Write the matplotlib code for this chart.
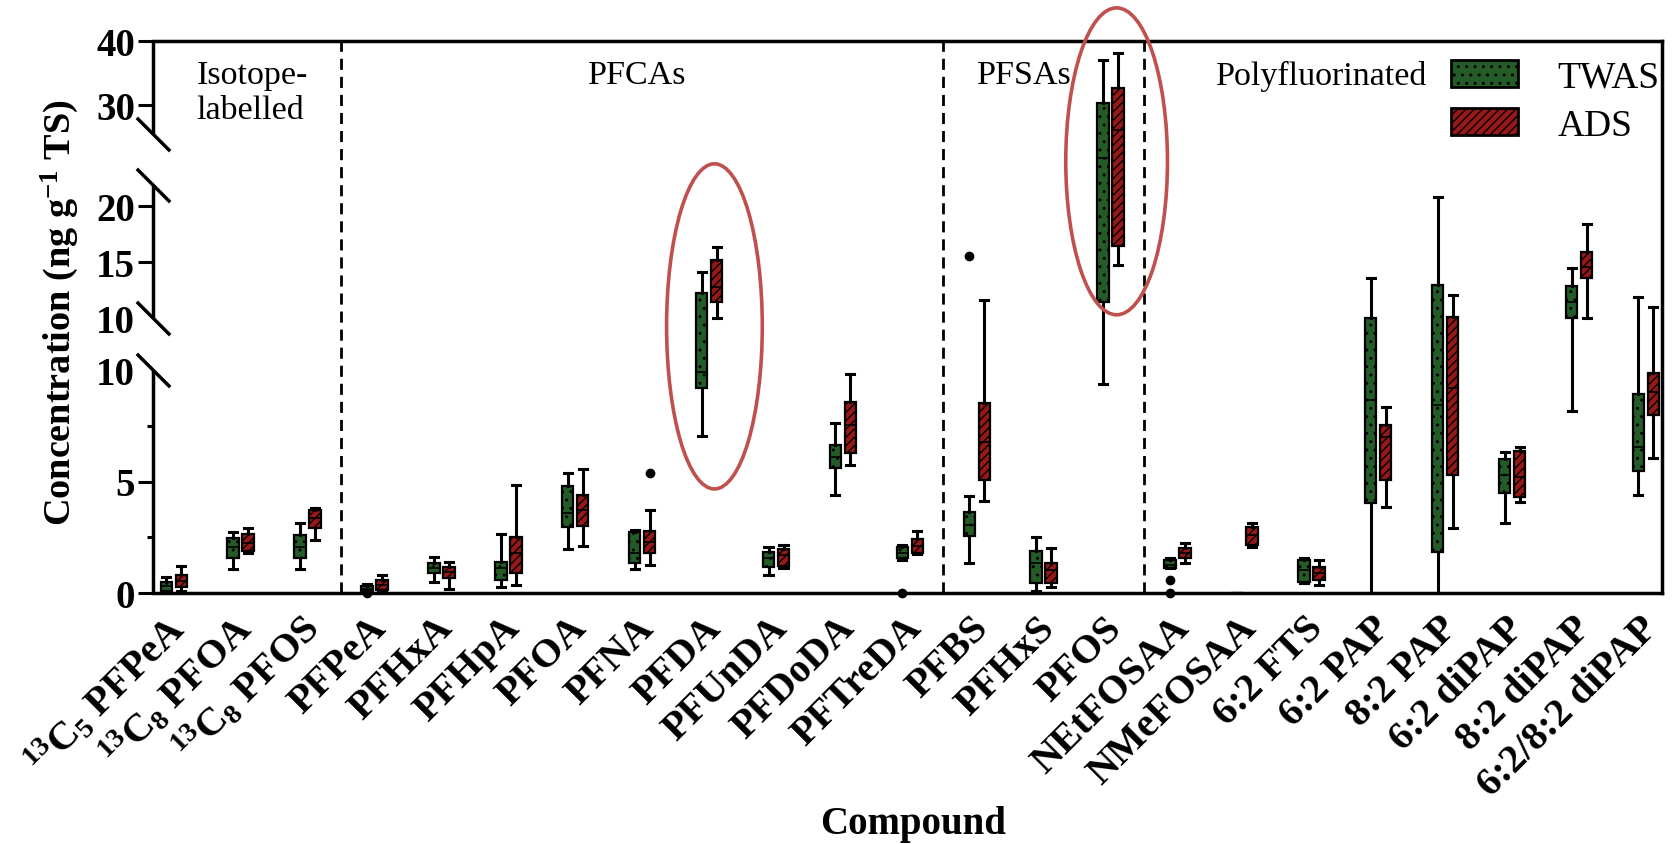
import numpy as np
import matplotlib
matplotlib.use('Agg')
import matplotlib.pyplot as plt
from matplotlib.patches import Patch, Ellipse
from matplotlib import transforms

plt.rcParams['font.family'] = ['Liberation Serif', 'DejaVu Serif']
plt.rcParams['mathtext.default'] = 'regular'
plt.rcParams['hatch.linewidth'] = 1.0

# categories
compounds = [r'$^{13}$C$_5$ PFPeA', r'$^{13}$C$_8$ PFOA', r'$^{13}$C$_8$ PFOS',
             'PFPeA', 'PFHxA', 'PFHpA', 'PFOA', 'PFNA', 'PFDA', 'PFUnDA', 'PFDoDA', 'PFTreDA',
             'PFBS', 'PFHxS', 'PFOS',
             'NEtFOSAA', 'NMeFOSAA', '6:2 FTS', '6:2 PAP', '8:2 PAP', '6:2 diPAP', '8:2 diPAP',
             '6:2/8:2 diPAP']
groups = ['Isotope-\nlabelled', 'PFCAs', 'PFSAs', 'Polyfluorinated']

# TWAS box stats (ng/g TS)
twas_lo = [0.0, 1.06, 1.06, 0.0, 0.51, 0.28, 1.96, 1.06, 7.05, 0.81, 4.39, 1.5,
           1.33, 0.1, 9.37, 1.1, 0.0, 0.43, 0.0, 0.0, 3.13, 8.17, 4.39]
twas_q1 = [0.1, 1.56, 1.56, 0.1, 0.88, 0.58, 2.94, 1.33, 9.18, 1.18, 5.59, 1.56,
           2.56, 0.46, 11.46, 1.1, 0.0, 0.51, 4.02, 1.85, 4.47, 10.01, 5.49]
twas_med = [0.3, 2.08, 2.08, 0.2, 1.1, 1.1, 3.57, 1.78, 9.9, 1.55, 6.11, 1.8,
            3.05, 1.33, 23.73, 1.25, 0.0, 1.03, 8.65, 8.43, 5.29, 11.46, 6.56]
twas_q3 = [0.5, 2.45, 2.6, 0.3, 1.33, 1.4, 4.8, 2.75, 12.2, 1.85, 6.64, 2.08,
           3.65, 1.9, 30.2, 1.48, 0.0, 1.48, 10.01, 12.96, 6.0, 12.87, 8.92]
twas_hi = [0.7, 2.75, 3.13, 0.4, 1.63, 2.65, 5.39, 2.83, 14.15, 2.08, 7.64, 2.15,
           4.35, 2.5, 37.07, 1.55, 0.0, 1.55, 13.56, 20.8, 6.34, 14.46, 11.9]
twas_out = [[], [], [], [0.0], [], [], [], [], [], [], [], [0.0],
            [15.56], [], [], [0.58, 0.0], [], [], [], [], [], [], []]

# ADS box stats (ng/g TS)
ads_lo = [0.1, 1.8, 2.38, 0.04, 0.17, 0.36, 2.1, 1.26, 10.01, 1.1, 5.74, 1.75,
          4.14, 0.26, 14.75, 1.36, 2.08, 0.36, 3.87, 2.9, 4.09, 10.01, 6.04]
ads_q1 = [0.25, 1.9, 2.9, 0.13, 0.66, 0.91, 3.0, 1.78, 11.46, 1.21, 6.26, 1.81,
          5.07, 0.43, 16.4, 1.56, 2.15, 0.58, 5.07, 5.29, 4.32, 13.56, 7.98]
ads_med = [0.55, 2.25, 3.35, 0.35, 0.92, 1.78, 3.72, 2.3, 12.8, 1.7, 7.53, 2.1,
           6.78, 1.03, 26.0, 1.78, 2.6, 0.91, 7.0, 9.18, 5.22, 14.6, 9.03]
ads_q3 = [0.8, 2.65, 3.72, 0.58, 1.18, 2.5, 4.39, 2.79, 15.2, 1.96, 8.58, 2.41,
          8.5, 1.36, 32.7, 2.0, 2.97, 1.15, 7.53, 10.1, 6.38, 15.95, 9.85]
ads_hi = [1.2, 2.9, 3.8, 0.81, 1.4, 4.84, 5.55, 3.72, 16.34, 2.15, 9.8, 2.79,
          11.6, 2.0, 38.1, 2.23, 3.15, 1.48, 8.35, 12.06, 6.56, 18.43, 11.0]
ads_out = [[], [], [], [], [], [], [], [5.39], [], [], [], [],
           [], [], [], [], [], [], [], [], [], [], []]

green = '#245c27'
red = '#981818'

# broken y axis: 0-10 | 10-21.9 | 25.4-40, drawn as one piecewise scale
brk_val = [0, 10, 10.0001, 21.9, 25.4, 40]
brk_pos = [0, 223, 275, 408, 459, 552]


def fwd(v):
    return np.interp(v, brk_val, brk_pos)


def inv(p):
    return np.interp(p, brk_pos, brk_val)


def make_stats(lo, q1, med, q3, hi, out):
    return [dict(whislo=a, q1=b, med=c, q3=d, whishi=e, fliers=f)
            for a, b, c, d, e, f in zip(lo, q1, med, q3, hi, out)]


fig = plt.figure(figsize=(16.78, 8.45), dpi=100)
ax = fig.add_axes([153 / 1678, 1 - 594 / 845, 1509 / 1678, 552 / 845])
ax.set_yscale('function', functions=(fwd, inv))

x = np.arange(len(compounds))
series = [(make_stats(twas_lo, twas_q1, twas_med, twas_q3, twas_hi, twas_out), -0.112, green, '..'),
          (make_stats(ads_lo, ads_q1, ads_med, ads_q3, ads_hi, ads_out), 0.112, red, '////')]
for st, off, fc, hatch in series:
    art = ax.bxp(st, positions=x + off, widths=0.17, capwidths=0.12, patch_artist=True,
                 showfliers=True, manage_ticks=False,
                 boxprops=dict(facecolor=fc, edgecolor='k', linewidth=1.6, hatch=hatch),
                 whiskerprops=dict(color='k', linewidth=2.2),
                 capprops=dict(color='k', linewidth=2.2),
                 medianprops=dict(color='k', linewidth=1.2),
                 flierprops=dict(marker='o', markerfacecolor='k', markeredgecolor='k', markersize=6))
    for fl in art['fliers']:
        fl.set_clip_on(False)

ax.set_xlim(-0.31, 22.24)
ax.set_ylim(0, 40)

# group separators
for xv in [2.5, 11.5, 14.5]:
    ax.axvline(xv, color='k', lw=2, ls=(0, (4, 2.5)), zorder=1)

# spines / y axis with breaks
for s in ['top', 'right', 'bottom']:
    ax.spines[s].set_linewidth(2.5)
ax.spines['left'].set_visible(False)
ty = transforms.blended_transform_factory(ax.transAxes, ax.transData)
for lo, hi in [(0, 10), (10.0001, 21.9), (25.4, 40)]:
    ax.plot([0, 0], [lo, hi], transform=ty, color='k', lw=2.5, clip_on=False,
            solid_capstyle='butt')
for v in [10, 10.0001, 21.9, 25.4]:
    ax.plot([0], [v], transform=ty, marker=[(-1, 1), (1, -1)], ms=24, mew=2.5,
            color='k', clip_on=False)

ax.set_yticks([0, 5, 15, 20, 30, 40])
ax.set_yticklabels(['0', '5', '15', '20', '30', '40'], fontsize=28, fontweight='bold')
ax.set_yticks([2.5, 7.5], minor=True)
ax.tick_params(axis='y', which='major', length=10.8, width=2.2, pad=2)
ax.tick_params(axis='y', which='minor', length=4.5, width=2.2)
t10, _, _ = ax.get_yaxis_text1_transform(12.8)
for v in [10, 10.0002]:
    ax.text(0, v, '10', transform=t10, ha='right', va='center_baseline',
            fontsize=28, fontweight='bold')

ax.set_xticks(x)
ax.set_xticklabels(compounds, rotation=45, ha='right', va='center', rotation_mode='anchor',
                   fontsize=29, fontweight='bold')
ax.tick_params(axis='x', length=0, pad=21)
shift = transforms.ScaledTranslation(6 / 100, 0, fig.dpi_scale_trans)
for lab in ax.get_xticklabels():
    lab.set_transform(lab.get_transform() + shift)

ax.set_xlabel('Compound', fontsize=28, fontweight='bold')
ax.xaxis.set_label_coords(0.504, -0.384)
ax.set_ylabel('Concentration (ng g$^{-1}$ TS)', fontsize=27.5, fontweight='bold')
ax.yaxis.set_label_coords(-0.048, 0.509)

# group labels
tg = transforms.blended_transform_factory(ax.transData, ax.transAxes)
ax.text(0.34, 0.966, groups[0], transform=tg, ha='left', va='top', fontsize=24.5,
        linespacing=1.2, multialignment='left')
for name, xc in zip(groups[1:], [6.93, 12.71, 17.15]):
    ax.text(xc, 0.966, name, transform=tg, ha='center', va='top', fontsize=24.5)

# highlight ellipses
for name, dx, yc, w, h in [('PFDA', 0.08, 0.483, 1.43, 0.589), ('PFOS', 0.09, 0.782, 1.52, 0.556)]:
    xc = compounds.index(name) + dx
    ax.add_patch(Ellipse((xc, yc), w, h, transform=tg, fill=False, ec='#c0504d',
                         lw=2.6, clip_on=False, zorder=6))

handles = [Patch(facecolor=green, edgecolor='k', hatch='..', linewidth=2, label='TWAS'),
           Patch(facecolor=red, edgecolor='k', hatch='////', linewidth=2, label='ADS')]
ax.legend(handles=handles, loc='upper left', bbox_to_anchor=(0.86, 0.965), frameon=False,
          borderpad=0, borderaxespad=0, handlelength=1.8, handleheight=0.72,
          handletextpad=1.05, labelspacing=0.36, fontsize=27)

fig.savefig('out.png', dpi=100)
